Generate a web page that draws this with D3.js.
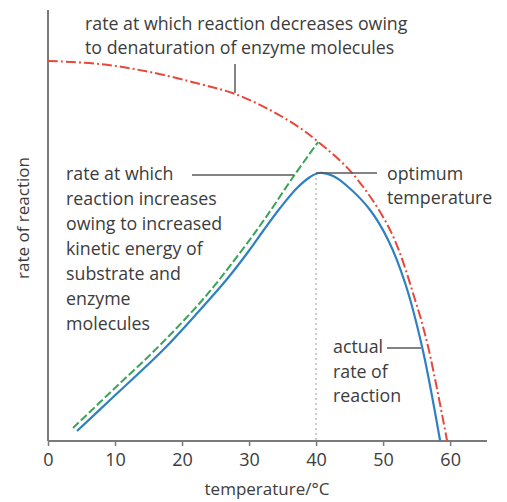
<!DOCTYPE html>
<html><head><meta charset="utf-8">
<script src="https://cdn.jsdelivr.net/npm/d3@7"></script>
<style>body{margin:0;background:#fff}svg{display:block}</style>
</head><body>
<svg id="c" width="507" height="502"></svg>
<script>
// ---- data (temperature in °C, rate in arbitrary units 0-100) ----
const xTicks = [0, 10, 20, 30, 40, 50, 60];
const actualTemp = [4.33, 9.25, 17.16, 22.54, 26.72, 29.85, 32.09, 34.63, 37.16, 39.1, 40.45, 42.54, 44.63, 48.06, 50.75, 53.28, 55.82, 58.51];
const actualRate = [2.32, 9.51, 21.11, 30.16, 37.59, 43.85, 48.72, 54.06, 58.7, 61.25, 62.18, 61.48, 59.16, 53.6, 46.64, 36.66, 21.81, 0];
const kineticTemp = [3.73, 10.0, 16.72, 23.43, 28.96, 32.54, 36.57, 40.3];
const kineticRate = [3.02, 12.3, 22.27, 33.41, 44.32, 51.97, 61.25, 69.37];
const denatTemp = [0, 7.76, 15.22, 22.69, 27.91, 33.13, 37.61, 40.15, 45.37, 51.04, 54.78, 56.72, 59.55];
const denatRate = [88.17, 87.47, 85.61, 82.83, 80.51, 76.8, 72.62, 69.61, 62.18, 48.96, 32.71, 21.81, 0];
const optimumTemp = 40, optimumRate = 62.18;
const xLabel = "temperature/°C", yLabel = "rate of reaction";
const noteTop = ["rate at which reaction decreases owing", "to denaturation of enzyme molecules"];
const noteLeft = ["rate at which", "reaction increases", "owing to increased", "kinetic energy of", "substrate and", "enzyme", "molecules"];
const noteOpt = ["optimum", "temperature"];
const noteActual = ["actual", "rate of", "reaction"];

const svg = d3.select("#c");
const FONT = "'Open Sans', sans-serif";
const TXT = "#3c3c3c", AX = "#7a7a7a";
const x = d3.scaleLinear().domain([0, 65.5]).range([48, 487]);
const y = d3.scaleLinear().domain([0, 100]).range([441, 10]);

// axes
svg.append("line").attr("x1", x(0)).attr("x2", x(0)).attr("y1", y(100)).attr("y2", y(0)).attr("stroke", AX).attr("stroke-width", 2);
const xa = svg.append("g").attr("transform", `translate(0,${y(0)})`)
  .call(d3.axisBottom(x).tickValues(xTicks).tickSize(5).tickPadding(7));
xa.select(".domain").attr("stroke", AX).attr("stroke-width", 2).attr("d", `M${x(0)},0H${x(65.5)}`);
xa.selectAll(".tick line").attr("stroke", AX).attr("stroke-width", 1.5);
xa.selectAll(".tick text").attr("fill", TXT).style("font-family", FONT).style("font-size", "18px");

svg.append("text").attr("x", 267).attr("y", 495).attr("text-anchor", "middle")
  .attr("fill", TXT).style("font-family", FONT).style("font-size", "17px").text(xLabel);
svg.append("text").attr("transform", `translate(29,218) rotate(-90)`).attr("text-anchor", "middle")
  .attr("fill", TXT).style("font-family", FONT).style("font-size", "17px").text(yLabel);

// optimum dotted line
svg.append("line").attr("x1", x(optimumTemp)).attr("x2", x(optimumTemp)).attr("y1", y(optimumRate)).attr("y2", y(0))
  .attr("stroke", "#bdbdbd").attr("stroke-width", 1.5).attr("stroke-dasharray", "2,3");

const line = d3.line().x(d => x(d[0])).y(d => y(d[1])).curve(d3.curveCatmullRom.alpha(0.5));
svg.append("path").datum(denatTemp.map((t, i) => [t, denatRate[i]])).attr("d", line)
  .attr("fill", "none").attr("stroke", "#e8473b").attr("stroke-width", 2).attr("stroke-dasharray", "10,3,2,3");
svg.append("path").datum(kineticTemp.map((t, i) => [t, kineticRate[i]])).attr("d", line)
  .attr("fill", "none").attr("stroke", "#3aa356").attr("stroke-width", 2).attr("stroke-dasharray", "8,3");
svg.append("path").datum(actualTemp.map((t, i) => [t, actualRate[i]])).attr("d", line)
  .attr("fill", "none").attr("stroke", "#2f80c2").attr("stroke-width", 2.2);

// leader lines
const LD = "#5a5a5a";
function leader(x1, y1, x2, y2) {
  svg.append("line").attr("x1", x1).attr("y1", y1).attr("x2", x2).attr("y2", y2).attr("stroke", LD).attr("stroke-width", 1.5);
}
leader(235, 64, 235, 93);
leader(192, 175, 294, 175);
leader(x(optimumTemp), y(optimumRate), 377, y(optimumRate));
leader(387, 348, 421, 348);

function block(lines, x0, y0, lh, size) {
  const t = svg.append("text").attr("fill", TXT).style("font-family", FONT).style("font-size", size + "px");
  lines.forEach((s, i) => t.append("tspan").attr("x", x0).attr("y", y0 + i * lh).text(s));
  return t;
}
block(noteTop, 85, 30, 24, 17.8);
block(noteLeft, 66, 180, 25, 17.8);
block(noteOpt, 387, 180, 23.5, 17.8);
block(noteActual, 333, 353, 24.5, 17.8);
</script>
</body></html>
